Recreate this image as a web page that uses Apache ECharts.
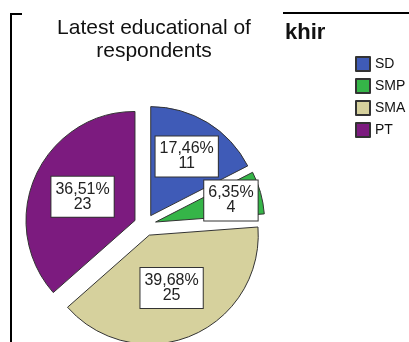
<!DOCTYPE html>
<html>
<head>
<meta charset="utf-8">
<script src="https://cdn.jsdelivr.net/npm/echarts@6/dist/echarts.min.js"></script>
<style>
html,body{margin:0;padding:0;background:#fff;}
#c{width:409px;height:342px;}
</style>
</head>
<body>
<div id="c"></div>
<script>
const categories = ['SD', 'SMP', 'SMA', 'PT'];
const counts = [11, 4, 25, 23];
const percents = ['17,46%', '6,35%', '39,68%', '36,51%'];
const colors = ['#3f5bb7', '#35b548', '#d6d19d', '#7c1b7f'];

const labelNudge = [[6, -10], [20, -6], [0, 0], [0, 0]];

const chart = echarts.init(document.getElementById('c'), null, {renderer: 'canvas'});
chart.setOption({
  animation: false,
  title: {
    text: 'Latest educational of\nrespondents',
    left: 149,
    top: 12,
    textAlign: 'center',
    textStyle: {fontFamily: 'Liberation Sans, Arial', fontSize: 21, fontWeight: 'normal', color: '#111', lineHeight: 23}
  },
  legend: {
    orient: 'vertical',
    left: 350,
    top: 51,
    icon: 'rect',
    itemWidth: 14,
    itemHeight: 14,
    itemGap: 6,
    selectedMode: false,
    textStyle: {fontFamily: 'Liberation Sans, Arial', fontSize: 14, lineHeight: 14, color: '#111'},
    data: categories
  },
  graphic: [
    {type: 'line', shape: {x1: 11, y1: 13, x2: 11, y2: 342}, style: {stroke: '#000', lineWidth: 2}},
    {type: 'line', shape: {x1: 10, y1: 14, x2: 22, y2: 14}, style: {stroke: '#000', lineWidth: 2}},
    {type: 'line', shape: {x1: 283, y1: 13, x2: 409, y2: 13}, style: {stroke: '#000', lineWidth: 2}},
    {type: 'text', left: 285, top: 22, style: {text: 'khir', fontFamily: 'Liberation Sans, Arial', fontSize: 22, fontWeight: 'bold', fill: '#111'}}
  ],
  series: [{
    type: 'pie',
    center: [145, 225],
    radius: [0, 109],
    startAngle: 90,
    clockwise: true,
    selectedMode: 'multiple',
    selectedOffset: 11,
    avoidLabelOverlap: false,
    emphasis: {disabled: true},
    itemStyle: {borderColor: '#333', borderWidth: 1},
    labelLayout: function (p) {
      const n = labelNudge[p.dataIndex] || [0, 0];
      return {hideOverlap: false, dx: n[0], dy: n[1]};
    },
    label: {
      position: 'inside',
      formatter: p => percents[p.dataIndex] + '\n' + p.value,
      fontFamily: 'Liberation Sans, Arial',
      fontSize: 16,
      lineHeight: 15,
      color: '#222',
      backgroundColor: '#fff',
      borderColor: '#333',
      borderWidth: 1,
      padding: [5, 4, 5, 4],
      align: 'center'
    },
    labelLine: {show: false},
    data: categories.map((c, i) => ({
      name: c,
      value: counts[i],
      selected: true,
      itemStyle: {color: colors[i]}
    }))
  }]
});
</script>
</body>
</html>
